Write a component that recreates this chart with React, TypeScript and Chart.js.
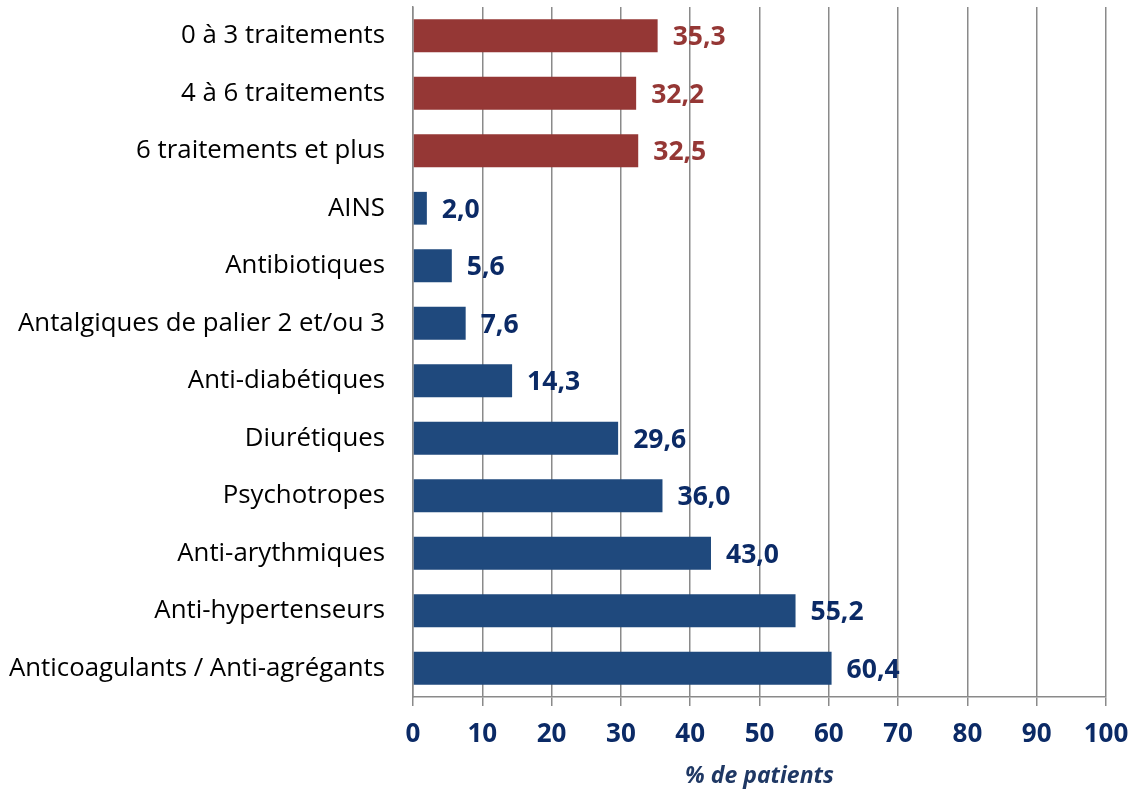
import React, { useEffect, useRef } from "react";
import { Chart, registerables } from "chart.js";

Chart.register(...registerables);

const categories = [
  "0 à 3 traitements",
  "4 à 6 traitements",
  "6 traitements et plus",
  "AINS",
  "Antibiotiques",
  "Antalgiques de palier 2 et/ou 3",
  "Anti-diabétiques",
  "Diurétiques",
  "Psychotropes",
  "Anti-arythmiques",
  "Anti-hypertenseurs",
  "Anticoagulants / Anti-agrégants",
];

const values = [35.3, 32.2, 32.5, 2.0, 5.6, 7.6, 14.3, 29.6, 36.0, 43.0, 55.2, 60.4];
const xTicks = [0, 10, 20, 30, 40, 50, 60, 70, 80, 90, 100];
const axisTitle = "% de patients";

const RED = "#953735";
const BLUE = "#1F497D";
const NAVY = "#0B2A66";
const FONT = "'Open Sans', 'DejaVu Sans', sans-serif";

const barColors = values.map((_, i) => (i < 3 ? RED : BLUE));
const labelColors = values.map((_, i) => (i < 3 ? RED : NAVY));

const valueLabels = {
  id: "valueLabels",
  afterDatasetsDraw(chart: any) {
    const ctx = chart.ctx;
    const meta = chart.getDatasetMeta(0);
    ctx.save();
    ctx.font = `bold 26.5px ${FONT}`;
    ctx.textBaseline = "middle";
    ctx.textAlign = "left";
    meta.data.forEach((bar: any, i: number) => {
      ctx.fillStyle = labelColors[i];
      ctx.fillText(values[i].toFixed(1).replace(".", ","), bar.x + 15, bar.y + 2);
    });
    ctx.restore();
  },
};

export default function App() {
  const ref = useRef<HTMLCanvasElement>(null);
  useEffect(() => {
    if (!ref.current) return;
    const chart = new Chart(ref.current, {
      type: "bar",
      data: {
        labels: categories,
        datasets: [
          {
            data: values,
            backgroundColor: barColors,
            barPercentage: 0.57,
            categoryPercentage: 1,
          },
        ],
      },
      options: {
        indexAxis: "y",
        animation: false,
        responsive: false,
        layout: { padding: { top: 7, right: 31, bottom: 0, left: 0 } },
        plugins: { legend: { display: false }, tooltip: { enabled: false } },
        scales: {
          x: {
            min: 0,
            max: 100,
            afterBuildTicks: (s: any) => {
              s.ticks = xTicks.map((v) => ({ value: v }));
            },
            afterFit: (s: any) => {
              s.paddingLeft = 0;
              s.paddingRight = 0;
              s.height = 95;
            },
            grid: { color: "#8A8A8A", lineWidth: 1.5, tickLength: 9, drawOnChartArea: true },
            border: { color: "#8A8A8A", width: 1.5 },
            ticks: {
              color: NAVY,
              font: { family: FONT, size: 26, weight: "bold" },
              padding: 13,
              maxRotation: 0,
            },
            title: {
              display: true,
              text: axisTitle,
              color: "#1F3864",
              font: { family: FONT, size: 23, weight: "bold", style: "italic" },
              padding: { top: 0, bottom: 2 },
            },
          },
          y: {
            afterFit: (s: any) => {
              s.width = 413;
              s.paddingTop = 0;
              s.paddingBottom = 0;
            },
            grid: { display: false, drawTicks: true, tickLength: 28 },
            border: { color: "#8A8A8A", width: 1.5 },
            ticks: {
              color: "#000000",
              font: { family: FONT, size: 25.8 },
              padding: 0,
            },
          },
        },
      },
      plugins: [valueLabels],
    });
    return () => chart.destroy();
  }, []);
  return (
    <div style={{ position: "fixed", left: 0, top: 0, width: 1137, height: 792, background: "#fff" }}>
      <canvas ref={ref} width={1137} height={792} style={{ width: 1137, height: 792 }} />
    </div>
  );
}
